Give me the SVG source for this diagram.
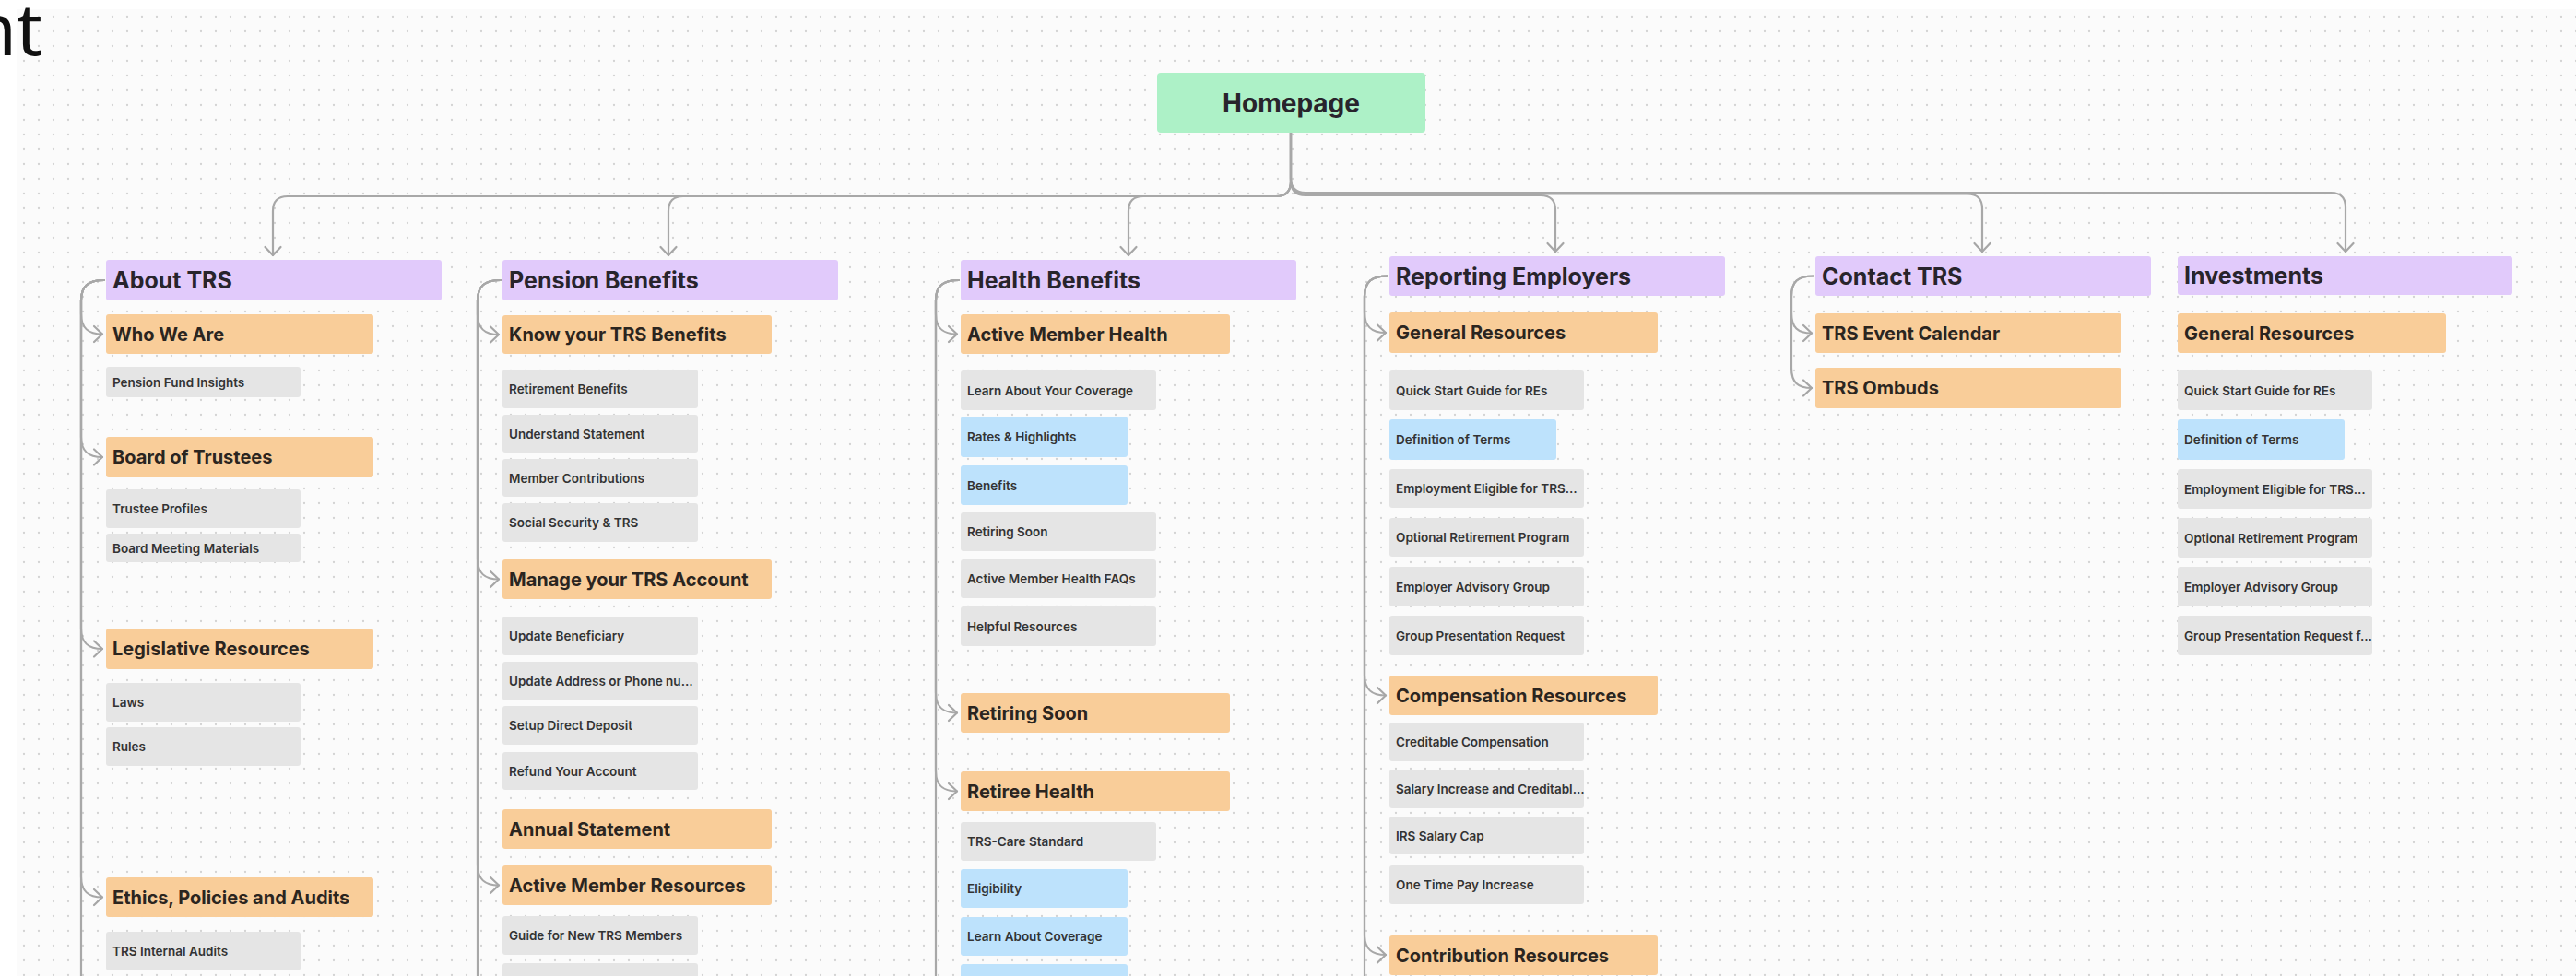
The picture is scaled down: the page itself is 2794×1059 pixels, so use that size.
<svg xmlns="http://www.w3.org/2000/svg" width="2794" height="1059" viewBox="0 0 2794 1059">
<defs>
<pattern id="dots" x="18" y="10" width="16" height="16" patternUnits="userSpaceOnUse">
<circle cx="8" cy="8" r="1.15" fill="#d3d3d3"/>
</pattern>
<marker id="chev" viewBox="-12 -11 14 22" refX="0" refY="0" markerWidth="14" markerHeight="22" markerUnits="userSpaceOnUse" orient="auto">
<path d="M-9,-8.5 L0,0 L-9,8.5" fill="none" stroke="#a6a6a6" stroke-width="2.2" stroke-linecap="round" stroke-linejoin="round"/>
</marker>
<style>
.hdr{fill:#e1cafb}
.sec{fill:#f9cd99}
.item{fill:#e5e5e5}
.blue{fill:#bde2fc}
.home{fill:#adf1c7}
text{font-family:Inter,"Liberation Sans",sans-serif;font-weight:600;fill:#28242c}
.th{font-size:25px;font-weight:700}
.ts{font-size:20px;font-weight:700;fill:#2b251f}
.ti{font-size:13.5px;fill:#333333}
.tm{font-size:28px;font-weight:700;text-anchor:middle}
.con path{fill:none;stroke:#a8a8a8;stroke-width:2.2;stroke-linecap:round}
.con path.a{marker-end:url(#chev)}
</style>
</defs>
<rect x="0" y="0" width="2794" height="1059" fill="#ffffff"/>
<rect x="18" y="10" width="2776" height="1049" fill="#fbfbfb"/>
<rect x="18" y="10" width="2776" height="1049" fill="url(#dots)"/>
<text x="46" y="60" style="font-family:'Noto Sans','DejaVu Sans',sans-serif;font-weight:400;font-size:78px;fill:#111111;text-anchor:end">nt</text>

<g id="connectors" class="con">
<path class="a" d="M1400 144 V197 Q1400 213 1384 213 H312 Q296 213 296 229 V277"/>
<path class="a" d="M1400 144 V197 Q1400 213 1384 213 H741 Q725 213 725 229 V277"/>
<path class="a" d="M1400 144 V197 Q1400 213 1384 213 H1240 Q1224 213 1224 229 V277"/>
<path class="a" d="M1400 144 V196 Q1400 212 1416 212 H1671 Q1687 212 1687 228 V273"/>
<path class="a" d="M1400 144 V194.5 Q1400 210.5 1416 210.5 H2134 Q2150 210.5 2150 226.5 V273"/>
<path class="a" d="M1400 144 V193 Q1400 209 1416 209 H2528 Q2544 209 2544 225 V273"/>

<path class="a" d="M113 304 C96 304 88 310 88 326 V340.5 C88 356.5 96 362.5 111 362.5"/>
<path class="a" d="M113 304 C96 304 88 310 88 326 V474 C88 490 96 496 111 496"/>
<path class="a" d="M113 304 C96 304 88 310 88 326 V682 C88 698 96 704 111 704"/>
<path class="a" d="M113 304 C96 304 88 310 88 326 V951.5 C88 967.5 96 973.5 111 973.5"/>
<path d="M113 304 C96 304 88 310 88 326 V1075"/>

<path class="a" d="M543 304 C526 304 518 310 518 326 V341 C518 357 526 363 541 363"/>
<path class="a" d="M543 304 C526 304 518 310 518 326 V606.5 C518 622.5 526 628.5 541 628.5"/>
<path class="a" d="M543 304 C526 304 518 310 518 326 V938.5 C518 954.5 526 960.5 541 960.5"/>
<path d="M543 304 C526 304 518 310 518 326 V1075"/>

<path class="a" d="M1040 304 C1023 304 1015 310 1015 326 V340.5 C1015 356.5 1023 362.5 1038 362.5"/>
<path class="a" d="M1040 304 C1023 304 1015 310 1015 326 V751.5 C1015 767.5 1023 773.5 1038 773.5"/>
<path class="a" d="M1040 304 C1023 304 1015 310 1015 326 V836.5 C1015 852.5 1023 858.5 1038 858.5"/>
<path d="M1040 304 C1023 304 1015 310 1015 326 V1075"/>

<path class="a" d="M1505 299.5 C1488 299.5 1480 305.5 1480 321.5 V339 C1480 355 1488 361 1503 361"/>
<path class="a" d="M1505 299.5 C1488 299.5 1480 305.5 1480 321.5 V732.5 C1480 748.5 1488 754.5 1503 754.5"/>
<path class="a" d="M1505 299.5 C1488 299.5 1480 305.5 1480 321.5 V1014 C1480 1030 1488 1036 1503 1036"/>
<path d="M1505 299.5 C1488 299.5 1480 305.5 1480 321.5 V1075"/>

<path class="a" d="M1967 299.5 C1950 299.5 1943 305.5 1943 321.5 V339.5 C1943 355.5 1950 361.5 1965 361.5"/>
<path class="a" d="M1967 299.5 C1950 299.5 1943 305.5 1943 321.5 V399 C1943 415 1950 421 1965 421"/>
</g>

<g id="homepage">
<rect class="home" x="1255" y="79" width="291" height="65" rx="4"/>
<text class="tm" x="1400.5" y="122">Homepage</text>
</g>

<g id="about-trs">
<rect class="hdr" x="115" y="282" width="364" height="44" rx="3"/>
<text class="th" x="122" y="313">About TRS</text>
</g>
<g id="who-we-are"><rect class="sec" x="115" y="341" width="290" height="43" rx="3"/><text class="ts" x="122" y="369.5">Who We Are</text></g>
<g id="pension-fund-insights"><rect class="item" x="115" y="398" width="211" height="33" rx="3"/><text class="ti" x="122" y="419.5">Pension Fund Insights</text></g>
<g id="board-of-trustees"><rect class="sec" x="115" y="474" width="290" height="44" rx="3"/><text class="ts" x="122" y="503">Board of Trustees</text></g>
<g id="trustee-profiles"><rect class="item" x="115" y="531" width="211" height="42" rx="3"/><text class="ti" x="122" y="557">Trustee Profiles</text></g>
<g id="board-meeting-materials"><rect class="item" x="115" y="579" width="211" height="31" rx="3"/><text class="ti" x="122" y="599.5">Board Meeting Materials</text></g>
<g id="legislative-resources"><rect class="sec" x="115" y="682" width="290" height="44" rx="3"/><text class="ts" x="122" y="711">Legislative Resources</text></g>
<g id="laws"><rect class="item" x="115" y="741" width="211" height="42" rx="3"/><text class="ti" x="122" y="767">Laws</text></g>
<g id="rules"><rect class="item" x="115" y="789" width="211" height="42" rx="3"/><text class="ti" x="122" y="815">Rules</text></g>
<g id="ethics"><rect class="sec" x="115" y="952" width="290" height="43" rx="3"/><text class="ts" x="122" y="980.5">Ethics, Policies and Audits</text></g>
<g id="trs-internal-audits"><rect class="item" x="115" y="1011" width="211" height="42" rx="3"/><text class="ti" x="122" y="1037">TRS Internal Audits</text></g>

<g id="pension-benefits">
<rect class="hdr" x="545" y="282" width="364" height="44" rx="3"/>
<text class="th" x="552" y="313">Pension Benefits</text>
</g>
<g id="know-your-trs-benefits"><rect class="sec" x="545" y="342" width="292" height="42" rx="3"/><text class="ts" x="552" y="370">Know your TRS Benefits</text></g>
<g id="retirement-benefits"><rect class="item" x="545" y="401" width="212" height="42" rx="3"/><text class="ti" x="552" y="427">Retirement Benefits</text></g>
<g id="understand-statement"><rect class="item" x="545" y="450" width="212" height="41" rx="3"/><text class="ti" x="552" y="475.5">Understand Statement</text></g>
<g id="member-contributions"><rect class="item" x="545" y="498" width="212" height="41" rx="3"/><text class="ti" x="552" y="523.5">Member Contributions</text></g>
<g id="social-security"><rect class="item" x="545" y="546" width="212" height="42" rx="3"/><text class="ti" x="552" y="572">Social Security &amp; TRS</text></g>
<g id="manage-your-trs-account"><rect class="sec" x="545" y="607" width="292" height="43" rx="3"/><text class="ts" x="552" y="635.5">Manage your TRS Account</text></g>
<g id="update-beneficiary"><rect class="item" x="545" y="669" width="212" height="42" rx="3"/><text class="ti" x="552" y="695">Update Beneficiary</text></g>
<g id="update-address"><rect class="item" x="545" y="718" width="212" height="42" rx="3"/><text class="ti" x="552" y="744">Update Address or Phone nu…</text></g>
<g id="setup-direct-deposit"><rect class="item" x="545" y="766" width="212" height="42" rx="3"/><text class="ti" x="552" y="792">Setup Direct Deposit</text></g>
<g id="refund-your-account"><rect class="item" x="545" y="816" width="212" height="41" rx="3"/><text class="ti" x="552" y="841.5">Refund Your Account</text></g>
<g id="annual-statement"><rect class="sec" x="545" y="878" width="292" height="43" rx="3"/><text class="ts" x="552" y="906.5">Annual Statement</text></g>
<g id="active-member-resources"><rect class="sec" x="545" y="939" width="292" height="43" rx="3"/><text class="ts" x="552" y="967.5">Active Member Resources</text></g>
<g id="guide-for-new-members"><rect class="item" x="545" y="994" width="212" height="42" rx="3"/><text class="ti" x="552" y="1020">Guide for New TRS Members</text></g>
<g id="pension-next"><rect class="item" x="545" y="1045" width="212" height="42" rx="3"/></g>

<g id="health-benefits">
<rect class="hdr" x="1042" y="282" width="364" height="44" rx="3"/>
<text class="th" x="1049" y="313">Health Benefits</text>
</g>
<g id="active-member-health"><rect class="sec" x="1042" y="341" width="292" height="43" rx="3"/><text class="ts" x="1049" y="369.5">Active Member Health</text></g>
<g id="learn-about-your-coverage"><rect class="item" x="1042" y="402" width="212" height="43" rx="3"/><text class="ti" x="1049" y="428.5">Learn About Your Coverage</text></g>
<g id="rates-highlights"><rect class="blue" x="1042" y="452" width="181" height="44" rx="3"/><text class="ti" x="1049" y="479">Rates &amp; Highlights</text></g>
<g id="benefits"><rect class="blue" x="1042" y="505" width="181" height="43" rx="3"/><text class="ti" x="1049" y="531.5">Benefits</text></g>
<g id="retiring-soon-item"><rect class="item" x="1042" y="556" width="212" height="42" rx="3"/><text class="ti" x="1049" y="582">Retiring Soon</text></g>
<g id="active-member-health-faqs"><rect class="item" x="1042" y="607" width="212" height="42" rx="3"/><text class="ti" x="1049" y="633">Active Member Health FAQs</text></g>
<g id="helpful-resources"><rect class="item" x="1042" y="658" width="212" height="43" rx="3"/><text class="ti" x="1049" y="684.5">Helpful Resources</text></g>
<g id="retiring-soon"><rect class="sec" x="1042" y="752" width="292" height="43" rx="3"/><text class="ts" x="1049" y="780.5">Retiring Soon</text></g>
<g id="retiree-health"><rect class="sec" x="1042" y="837" width="292" height="43" rx="3"/><text class="ts" x="1049" y="865.5">Retiree Health</text></g>
<g id="trs-care-standard"><rect class="item" x="1042" y="892" width="212" height="42" rx="3"/><text class="ti" x="1049" y="918">TRS-Care Standard</text></g>
<g id="eligibility"><rect class="blue" x="1042" y="943" width="181" height="42" rx="3"/><text class="ti" x="1049" y="969">Eligibility</text></g>
<g id="learn-about-coverage"><rect class="blue" x="1042" y="995" width="181" height="42" rx="3"/><text class="ti" x="1049" y="1021">Learn About Coverage</text></g>
<g id="health-next"><rect class="blue" x="1042" y="1046" width="181" height="42" rx="3"/></g>

<g id="reporting-employers">
<rect class="hdr" x="1507" y="278" width="364" height="43" rx="3"/>
<text class="th" x="1514" y="308.5">Reporting Employers</text>
</g>
<g id="re-general-resources"><rect class="sec" x="1507" y="339" width="291" height="44" rx="3"/><text class="ts" x="1514" y="368">General Resources</text></g>
<g id="re-quick-start"><rect class="item" x="1507" y="402" width="211" height="43" rx="3"/><text class="ti" x="1514" y="428.5">Quick Start Guide for REs</text></g>
<g id="re-definition"><rect class="blue" x="1507" y="455" width="181" height="44" rx="3"/><text class="ti" x="1514" y="482">Definition of Terms</text></g>
<g id="re-employment"><rect class="item" x="1507" y="509" width="211" height="42" rx="3"/><text class="ti" x="1514" y="535">Employment Eligible for TRS…</text></g>
<g id="re-optional"><rect class="item" x="1507" y="562" width="211" height="42" rx="3"/><text class="ti" x="1514" y="588">Optional Retirement Program</text></g>
<g id="re-advisory"><rect class="item" x="1507" y="615" width="211" height="43" rx="3"/><text class="ti" x="1514" y="641.5">Employer Advisory Group</text></g>
<g id="re-group"><rect class="item" x="1507" y="668" width="211" height="43" rx="3"/><text class="ti" x="1514" y="694.5">Group Presentation Request</text></g>
<g id="compensation-resources"><rect class="sec" x="1507" y="733" width="291" height="43" rx="3"/><text class="ts" x="1514" y="761.5">Compensation Resources</text></g>
<g id="creditable-compensation"><rect class="item" x="1507" y="784" width="211" height="42" rx="3"/><text class="ti" x="1514" y="810">Creditable Compensation</text></g>
<g id="salary-increase"><rect class="item" x="1507" y="835" width="211" height="42" rx="3"/><text class="ti" x="1514" y="861">Salary Increase and Creditabl…</text></g>
<g id="irs-salary-cap"><rect class="item" x="1507" y="886" width="211" height="41" rx="3"/><text class="ti" x="1514" y="911.5">IRS Salary Cap</text></g>
<g id="one-time-pay"><rect class="item" x="1507" y="939" width="211" height="42" rx="3"/><text class="ti" x="1514" y="965">One Time Pay Increase</text></g>
<g id="contribution-resources"><rect class="sec" x="1507" y="1015" width="291" height="43" rx="3"/><text class="ts" x="1514" y="1043.5">Contribution Resources</text></g>

<g id="contact-trs">
<rect class="hdr" x="1969" y="278" width="364" height="43" rx="3"/>
<text class="th" x="1976" y="308.5">Contact TRS</text>
</g>
<g id="trs-event-calendar"><rect class="sec" x="1969" y="340" width="332" height="43" rx="3"/><text class="ts" x="1976" y="368.5">TRS Event Calendar</text></g>
<g id="trs-ombuds"><rect class="sec" x="1969" y="399" width="332" height="44" rx="3"/><text class="ts" x="1976" y="428">TRS Ombuds</text></g>

<g id="investments">
<rect class="hdr" x="2362" y="278" width="363" height="42" rx="3"/>
<text class="th" x="2369" y="308">Investments</text>
</g>
<g id="inv-general-resources"><rect class="sec" x="2362" y="340" width="291" height="43" rx="3"/><text class="ts" x="2369" y="368.5">General Resources</text></g>
<g id="inv-quick-start"><rect class="item" x="2362" y="402" width="211" height="43" rx="3"/><text class="ti" x="2369" y="428.5">Quick Start Guide for REs</text></g>
<g id="inv-definition"><rect class="blue" x="2362" y="455" width="181" height="44" rx="3"/><text class="ti" x="2369" y="482">Definition of Terms</text></g>
<g id="inv-employment"><rect class="item" x="2362" y="509" width="211" height="43" rx="3"/><text class="ti" x="2369" y="535.5">Employment Eligible for TRS…</text></g>
<g id="inv-optional"><rect class="item" x="2362" y="562" width="211" height="43" rx="3"/><text class="ti" x="2369" y="588.5">Optional Retirement Program</text></g>
<g id="inv-advisory"><rect class="item" x="2362" y="615" width="211" height="43" rx="3"/><text class="ti" x="2369" y="641.5">Employer Advisory Group</text></g>
<g id="inv-group"><rect class="item" x="2362" y="668" width="211" height="43" rx="3"/><text class="ti" x="2369" y="694.5">Group Presentation Request f…</text></g>
</svg>
